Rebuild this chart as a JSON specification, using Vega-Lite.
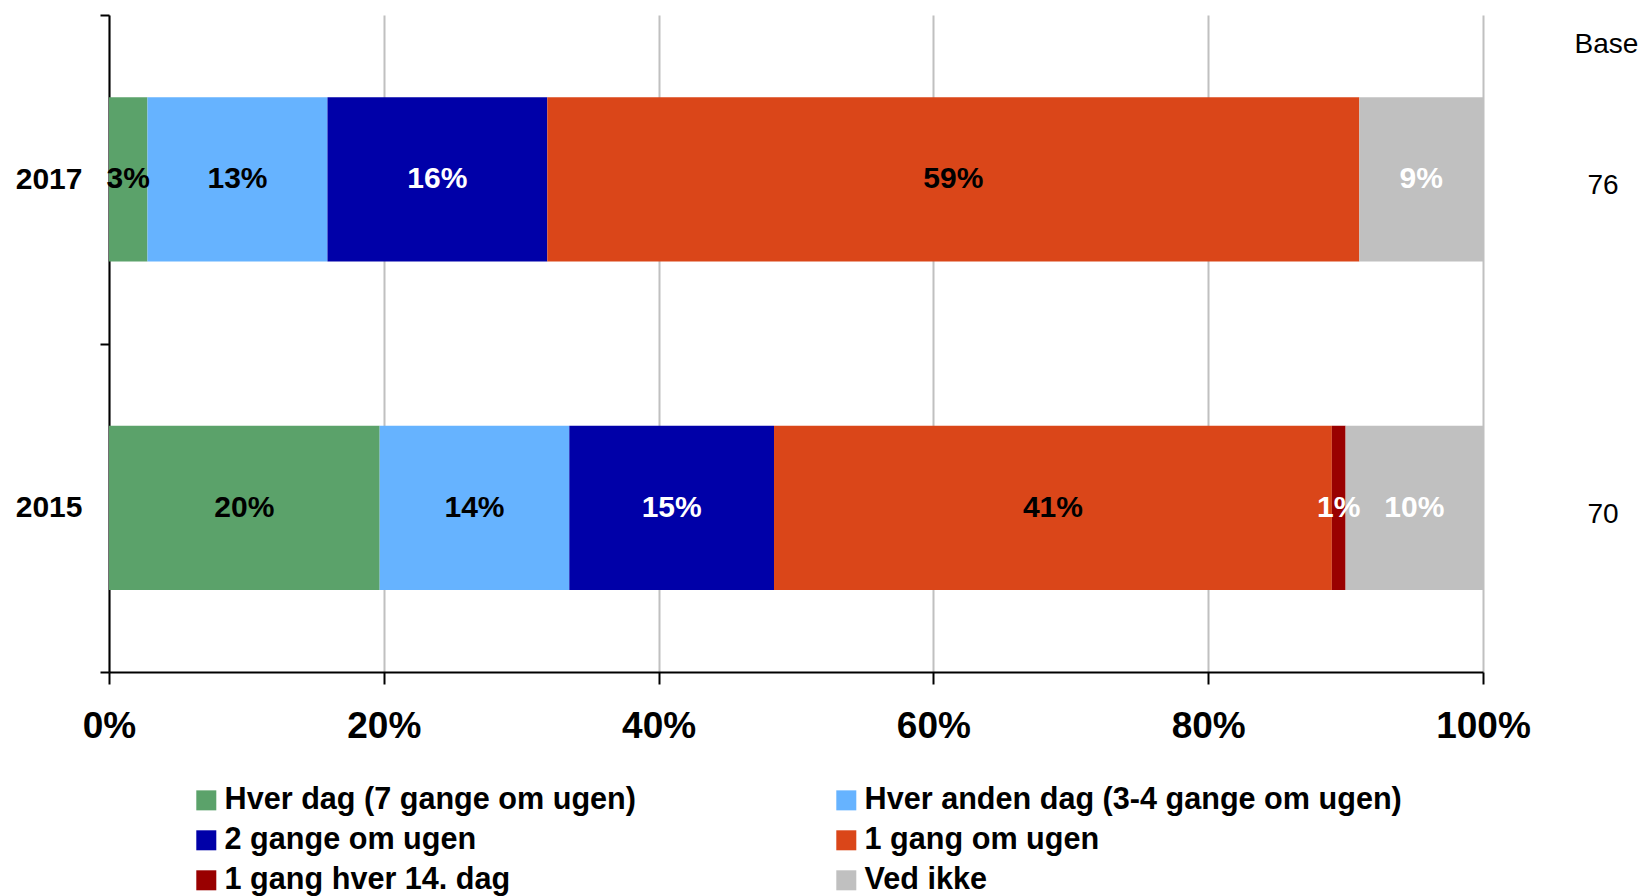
{
  "$schema": "https://vega.github.io/schema/vega-lite/v6.json",
  "autosize": "none",
  "width": 1374,
  "height": 657,
  "padding": {"left": 109, "top": 15, "right": 160, "bottom": 224},
  "background": "white",
  "config": {"font": "Liberation Sans", "view": {"stroke": null}},
  "datasets": {
    "shares": [
      {"year": "2017", "cat": "Hver dag (7 gange om ugen)", "order": 1, "value": 0.028},
      {"year": "2017", "cat": "Hver anden dag (3-4 gange om ugen)", "order": 2, "value": 0.131},
      {"year": "2017", "cat": "2 gange om ugen", "order": 3, "value": 0.160},
      {"year": "2017", "cat": "1 gang om ugen", "order": 4, "value": 0.591},
      {"year": "2017", "cat": "Ved ikke", "order": 6, "value": 0.090},
      {"year": "2015", "cat": "Hver dag (7 gange om ugen)", "order": 1, "value": 0.197},
      {"year": "2015", "cat": "Hver anden dag (3-4 gange om ugen)", "order": 2, "value": 0.138},
      {"year": "2015", "cat": "2 gange om ugen", "order": 3, "value": 0.149},
      {"year": "2015", "cat": "1 gang om ugen", "order": 4, "value": 0.406},
      {"year": "2015", "cat": "1 gang hver 14. dag", "order": 5, "value": 0.010},
      {"year": "2015", "cat": "Ved ikke", "order": 6, "value": 0.100}
    ],
    "base": [
      {"year": "2017", "base": 76},
      {"year": "2015", "base": 70}
    ]
  },
  "layer": [
    {
      "data": {"name": "shares"},
      "mark": {"type": "bar", "height": {"band": 0.5}},
      "encoding": {
        "y": {
          "field": "year", "type": "nominal", "sort": ["2017", "2015"],
          "scale": {"paddingInner": 0, "paddingOuter": 0},
          "axis": {
            "title": null, "tickBand": "extent", "tickSize": 9, "tickWidth": 2, "tickColor": "black",
            "domainColor": "black", "domainWidth": 2, "labelPadding": 18,
            "labelFontSize": 30, "labelFontWeight": "bold", "labelColor": "black", "grid": false
          }
        },
        "x": {
          "field": "value", "type": "quantitative", "stack": "zero",
          "scale": {"domain": [0, 1], "nice": false},
          "axis": {
            "title": null, "values": [0, 0.2, 0.4, 0.6, 0.8, 1], "format": ".0%",
            "grid": true, "gridColor": "#c0c0c0", "gridWidth": 2, "labelFlush": false,
            "domainColor": "black", "domainWidth": 2, "tickColor": "black", "tickWidth": 2, "tickSize": 12,
            "labelFontSize": 37, "labelFontWeight": "bold", "labelColor": "black", "labelPadding": 24
          }
        },
        "color": {
          "field": "cat", "type": "nominal",
          "scale": {
            "domain": ["Hver dag (7 gange om ugen)", "Hver anden dag (3-4 gange om ugen)", "2 gange om ugen", "1 gang om ugen", "1 gang hver 14. dag", "Ved ikke"],
            "range": ["#5ba26a", "#66b3ff", "#0000a8", "#da4619", "#990000", "#c0c0c0"]
          },
          "legend": {
            "title": null, "orient": "none", "legendX": 82, "legendY": 770, "direction": "horizontal",
            "columns": 2, "columnPadding": 195, "rowPadding": 9, "padding": 0,
            "symbolType": "square", "symbolSize": 400, "symbolStrokeWidth": 0, "labelOffset": 3,
            "labelFontSize": 30.6, "labelFontWeight": "bold", "labelColor": "black", "labelLimit": 1000
          }
        },
        "order": {"field": "order", "type": "quantitative"}
      }
    },
    {
      "data": {"name": "shares"},
      "transform": [
        {"stack": "value", "groupby": ["year"], "sort": [{"field": "order"}], "as": ["x0", "x1"]},
        {"calculate": "(datum.x0 + datum.x1) / 2", "as": "mid"}
      ],
      "mark": {"type": "text", "fontSize": 30, "fontWeight": "bold", "align": "center", "baseline": "middle"},
      "encoding": {
        "y": {"field": "year", "type": "nominal", "sort": ["2017", "2015"], "axis": null},
        "x": {"field": "mid", "type": "quantitative", "title": null},
        "text": {"field": "value", "type": "quantitative", "format": ".0%"},
        "color": {
          "condition": {"test": "datum.cat === '2 gange om ugen' || datum.cat === '1 gang hver 14. dag' || datum.cat === 'Ved ikke'", "value": "white"},
          "value": "black"
        }
      }
    },
    {
      "data": {"name": "base"},
      "mark": {"type": "text", "fontSize": 28, "dx": 120, "dy": 7, "align": "center", "baseline": "middle", "color": "black"},
      "encoding": {
        "y": {
          "field": "year", "type": "nominal", "sort": ["2017", "2015"],
          "axis": {
            "orient": "right", "labels": false, "ticks": false, "domain": false, "grid": false,
            "title": "Base", "titleAngle": 0, "titleX": 123, "titleY": 29, "titleFontSize": 28,
            "titleFontWeight": "normal", "titleColor": "black", "titleAlign": "center", "titleBaseline": "middle"
          }
        },
        "x": {"datum": 1, "title": null},
        "text": {"field": "base", "type": "quantitative"}
      }
    }
  ],
  "resolve": {"axis": {"y": "independent"}}
}
